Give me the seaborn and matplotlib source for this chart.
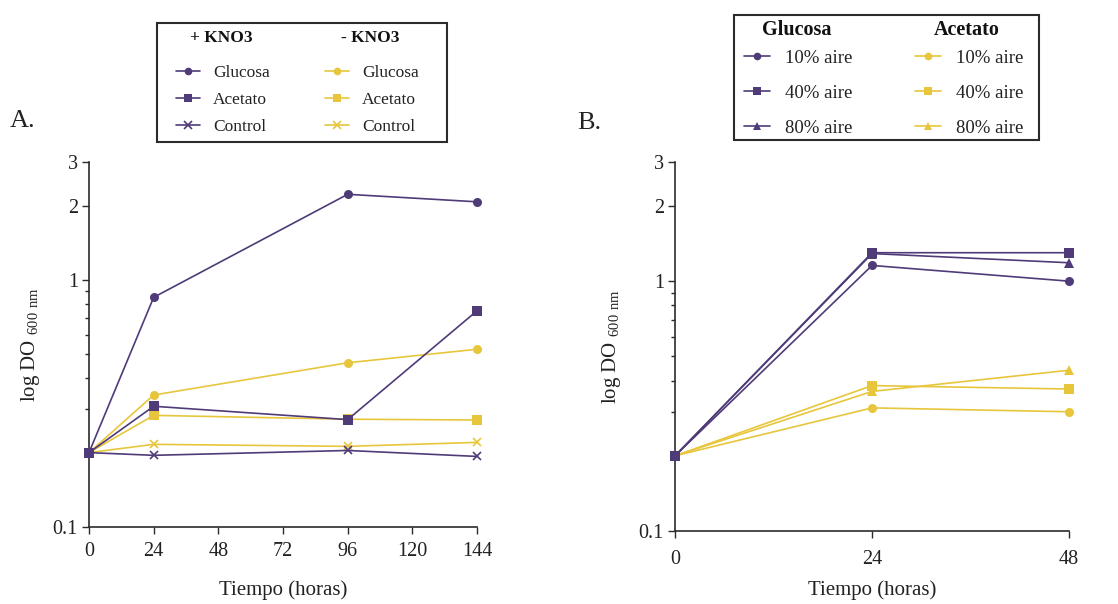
import numpy as np
import pandas as pd
import matplotlib
matplotlib.use("Agg")
import matplotlib.pyplot as plt
from matplotlib.lines import Line2D
from matplotlib.patches import Rectangle
from matplotlib.ticker import FixedLocator, NullFormatter, FixedFormatter
import seaborn as sns

sns.set_theme(style="ticks")
plt.rcParams["font.family"] = ["Liberation Serif", "DejaVu Serif"]
plt.rcParams["mathtext.fontset"] = "custom"
plt.rcParams["mathtext.rm"] = "Liberation Serif"

# ---- Panel A: growth with / without KNO3 ----
hours_a = [0, 24, 96, 144]
kno3_plus_glucosa = [0.20, 0.85, 2.22, 2.07]
kno3_plus_acetato = [0.20, 0.308, 0.272, 0.75]
kno3_plus_control = [0.20, 0.195, 0.204, 0.193]
kno3_minus_glucosa = [0.20, 0.342, 0.462, 0.524]
kno3_minus_acetato = [0.20, 0.283, 0.273, 0.271]
kno3_minus_control = [0.20, 0.216, 0.212, 0.220]
xticks_a = [0, 24, 48, 72, 96, 120, 144]

# ---- Panel B: growth at different aeration levels ----
hours_b = [0, 24, 48]
glucosa_10 = [0.20, 1.156, 1.00]
glucosa_40 = [0.20, 1.30, 1.30]
glucosa_80 = [0.20, 1.29, 1.185]
acetato_10 = [0.20, 0.311, 0.300]
acetato_40 = [0.20, 0.382, 0.370]
acetato_80 = [0.20, 0.362, 0.440]
xticks_b = [0, 24, 48]

yticks = [0.1, 1, 2, 3]
ytick_labels = ["0.1", "1", "2", "3"]
yminor = [0.2, 0.3, 0.4, 0.5, 0.6, 0.7, 0.8, 0.9]

PURPLE = "#4f3b78"
YELLOW = "#e8c63c"
AXCOL = "#2b2b2b"

fig = plt.figure(figsize=(11.18, 6.04), dpi=100)
ax_a = fig.add_axes([0.0796, 0.1275, 0.3471, 0.6043])
ax_b = fig.add_axes([0.6038, 0.1209, 0.3524, 0.6109])


def draw_series(ax, x, y, color, marker, msize):
    sns.lineplot(x=x, y=y, ax=ax, color=color, marker=marker, markersize=msize,
                 markeredgecolor=color, markeredgewidth=1.2 if marker == "x" else 0,
                 linewidth=1.2, clip_on=False, zorder=3)


series_a = [
    (kno3_minus_glucosa, YELLOW, "o", 6.5),
    (kno3_minus_acetato, YELLOW, "s", 6.5),
    (kno3_minus_control, YELLOW, "x", 6),
    (kno3_plus_glucosa, PURPLE, "o", 6.5),
    (kno3_plus_acetato, PURPLE, "s", 7),
    (kno3_plus_control, PURPLE, "x", 6),
]
for y, c, m, s in series_a:
    draw_series(ax_a, hours_a, y, c, m, s)

series_b = [
    (acetato_10, YELLOW, "o", 6.5),
    (acetato_40, YELLOW, "s", 6.5),
    (acetato_80, YELLOW, "^", 6.5),
    (glucosa_10, PURPLE, "o", 6.5),
    (glucosa_80, PURPLE, "^", 6.5),
    (glucosa_40, PURPLE, "s", 7),
]
for y, c, m, s in series_b:
    draw_series(ax_b, hours_b, y, c, m, s)

for ax, xt, xmax, xpad, xlpad, ylpad in [(ax_a, xticks_a, 144, 6, 14, 8),
                                         (ax_b, xticks_b, 48, 9, 8, 11)]:
    ax.set_yscale("log")
    ax.set_ylim(0.1, 3)
    ax.set_xlim(0, xmax)
    ax.yaxis.set_major_locator(FixedLocator(yticks))
    ax.yaxis.set_major_formatter(FixedFormatter(ytick_labels))
    ax.yaxis.set_minor_locator(FixedLocator(yminor))
    ax.yaxis.set_minor_formatter(NullFormatter())
    ax.set_xticks(xt)
    ax.set_xticklabels([str(v) for v in xt])
    sns.despine(ax=ax)
    for sp in ("left", "bottom"):
        ax.spines[sp].set_color(AXCOL)
        ax.spines[sp].set_linewidth(1.2)
    ax.tick_params(axis="both", which="major", direction="out", length=5,
                   width=1.0, color=AXCOL, labelsize=14.5, labelcolor="#222222", pad=3)
    ax.tick_params(axis="y", which="minor", direction="out", length=3,
                   width=1.0, color=AXCOL)
    ax.tick_params(axis="x", pad=xpad)
    ax.set_xlabel("Tiempo (horas)", fontsize=15, color="#222222", labelpad=xlpad)
    ax.set_ylabel(r"log DO $_{\mathregular{600\ nm}}$", fontsize=15,
                  color="#222222", labelpad=ylpad)
    ax.set_facecolor("white")

fig.text(0.009, 0.79, "A.", fontsize=19, color="#222222")
fig.text(0.516, 0.787, "B.", fontsize=19, color="#222222")


def make_handle(color, marker, msize):
    return Line2D([], [], color=color, marker=marker, markersize=msize,
                  markeredgecolor=color, markeredgewidth=1.2 if marker == "x" else 0,
                  linewidth=1.2)


legend_a_labels = ["Glucosa", "Acetato", "Control"]
legend_a_markers = ["o", "s", "x"]
legend_b_labels = ["10% aire", "40% aire", "80% aire"]
legend_b_markers = ["o", "s", "^"]


def build_legend(ax, labels, markers, anchor, fs, lspace, cspace, hlen, hpad):
    handles, texts = [], []
    for color in (PURPLE, YELLOW):
        for lab, mk in zip(labels, markers):
            handles.append(make_handle(color, mk, 5.5))
            texts.append(lab)
    leg = ax.legend(handles, texts, ncol=2, loc="upper left", bbox_to_anchor=anchor,
                    bbox_transform=fig.transFigure, frameon=False, fontsize=fs,
                    labelspacing=lspace, columnspacing=cspace, handlelength=hlen,
                    handletextpad=hpad, borderpad=0, borderaxespad=0)
    for t in leg.get_texts():
        t.set_color("#222222")
    return leg


leg_a = build_legend(ax_a, legend_a_labels, legend_a_markers,
                     (0.1574, 0.8924), 12.5, 0.62, 3.15, 1.4, 0.75)
leg_b = build_legend(ax_b, legend_b_labels, legend_b_markers,
                     (0.6655, 0.9180), 13.5, 0.95, 3.3, 1.4, 0.8)

# legend frames
for x0, y0, w, h in [(0.1404, 0.7649, 0.2594, 0.1970), (0.6565, 0.7682, 0.2728, 0.2070)]:
    fig.add_artist(Rectangle((x0, y0), w, h, transform=fig.transFigure, fill=False,
                             linewidth=1.5, edgecolor="#2b2b2b", zorder=5))

fig.canvas.draw()
renderer = fig.canvas.get_renderer()
inv = fig.transFigure.inverted()
for leg, headers, hfs, hy in [(leg_a, ["+ KNO3", "- KNO3"], 12.5, 0.9370),
                              (leg_b, ["Glucosa", "Acetato"], 14.5, 0.950)]:
    txts = leg.get_texts()
    hnds = leg.legend_handles
    for col, head in enumerate(headers):
        first = 3 * col
        tb = txts[first].get_window_extent(renderer)
        hb = hnds[first].get_window_extent(renderer)
        cx = (hb.x0 + tb.x1) / 2
        fx, _ = inv.transform((cx, 0))
        fig.text(fx, hy, head, ha="center", va="center", fontsize=hfs,
                 fontweight="bold", color="#111111")

fig.savefig("out.png", dpi=100, facecolor="white")
